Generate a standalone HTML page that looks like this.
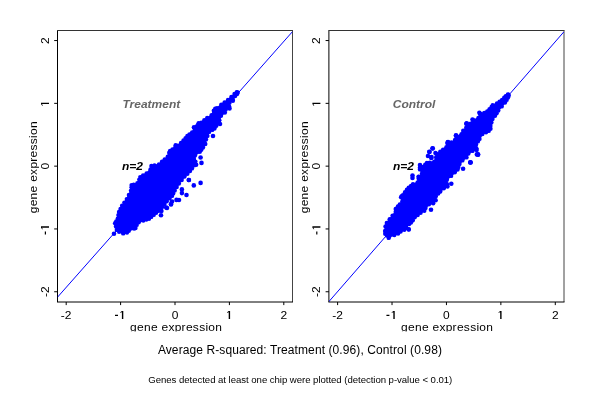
<!DOCTYPE html>
<html><head><meta charset="utf-8"><style>
html,body{margin:0;padding:0;background:#fff;}
svg{display:block;will-change:transform;}
text{font-family:"Liberation Sans",sans-serif;}
.tk{font-size:12px;fill:#000;}
.ttl{font-size:12px;font-weight:bold;font-style:italic;fill:#666;}
.n2{font-size:12px;font-weight:bold;font-style:italic;fill:#000;}
.main{font-size:12px;fill:#000;}
.sub{font-size:9.6px;fill:#000;}
</style></head><body>
<svg width="600" height="400" viewBox="0 0 600 400">
<rect width="600" height="400" fill="#fff"/>
<path d="M57.5,302.0 V30.5" stroke="#000" stroke-width="1" fill="none"/>
<path d="M57.0,30.5 H293.0" stroke="#333" stroke-width="1" fill="none"/>
<path d="M292.5,30.5 V302.0" stroke="#444" stroke-width="1" fill="none"/>
<path d="M57.0,302.0 H293.0" stroke="#000" stroke-width="1" fill="none"/>
<line x1="54.2" y1="40.55" x2="57.5" y2="40.55" stroke="#000" stroke-width="1" fill="none"/>
<line x1="54.2" y1="103.35" x2="57.5" y2="103.35" stroke="#000" stroke-width="1" fill="none"/>
<line x1="54.2" y1="166.15" x2="57.5" y2="166.15" stroke="#000" stroke-width="1" fill="none"/>
<line x1="54.2" y1="228.95" x2="57.5" y2="228.95" stroke="#000" stroke-width="1" fill="none"/>
<line x1="54.2" y1="291.75" x2="57.5" y2="291.75" stroke="#000" stroke-width="1" fill="none"/>
<line x1="66.20" y1="302.0" x2="66.20" y2="305.1" stroke="#000" stroke-width="1" fill="none"/>
<line x1="120.60" y1="302.0" x2="120.60" y2="305.1" stroke="#000" stroke-width="1" fill="none"/>
<line x1="175.00" y1="302.0" x2="175.00" y2="305.1" stroke="#000" stroke-width="1" fill="none"/>
<line x1="229.40" y1="302.0" x2="229.40" y2="305.1" stroke="#000" stroke-width="1" fill="none"/>
<line x1="283.80" y1="302.0" x2="283.80" y2="305.1" stroke="#000" stroke-width="1" fill="none"/>
<clipPath id="c0"><rect x="57.5" y="30.5" width="235.0" height="271.5"/></clipPath>
<line x1="57.5" y1="297.2" x2="292.5" y2="31.6" stroke="#00f" stroke-width="1" clip-path="url(#c0)"/>
<polygon points="237.0,91.6 234.0,93.4 227.5,99.3 220.8,104.0 216.6,107.4 214.8,108.0 213.1,110.4 211.0,114.6 206.8,117.4 200.8,122.1 197.8,124.0 194.0,127.8 191.5,131.9 186.9,135.4 182.9,139.9 177.8,145.0 169.5,150.4 168.5,152.5 167.1,156.2 158.6,163.7 150.9,165.3 149.8,169.0 146.1,172.7 139.7,176.6 136.9,182.7 131.0,184.5 130.2,190.4 126.1,198.7 121.4,205.4 118.2,211.7 116.9,218.4 114.3,223.2 115.3,226.7 116.1,230.3 118.7,232.4 123.1,234.2 127.4,233.4 129.3,231.4 134.5,229.3 136.1,228.6 137.4,225.3 139.2,223.0 143.6,221.3 149.4,219.4 154.2,215.5 159.1,211.3 163.1,207.3 167.3,201.7 172.7,196.3 175.4,191.0 179.5,184.0 185.1,177.0 190.6,171.5 194.9,165.9 196.9,165.0 196.2,161.5 195.7,155.8 200.4,152.4 203.6,148.0 206.1,144.2 206.7,139.7 209.7,132.5 215.1,129.1 218.9,123.4 220.1,120.5 221.6,116.3 225.6,113.0 226.3,110.1 230.2,108.9 230.2,103.1 233.6,101.1 233.5,99.3 237.6,94.4 238.0,93.2" fill="#00f"/>
<g fill="#00f"><circle cx="236.8" cy="92.3" r="2.2"/><circle cx="234.5" cy="94.0" r="2.2"/><circle cx="231.4" cy="96.9" r="2.2"/><circle cx="228.0" cy="99.9" r="2.2"/><circle cx="224.6" cy="102.4" r="2.2"/><circle cx="221.3" cy="104.7" r="2.2"/><circle cx="217.0" cy="108.1" r="2.2"/><circle cx="215.2" cy="108.7" r="2.2"/><circle cx="213.8" cy="110.8" r="2.2"/><circle cx="211.6" cy="115.1" r="2.2"/><circle cx="207.2" cy="118.0" r="2.2"/><circle cx="204.3" cy="120.3" r="2.2"/><circle cx="201.2" cy="122.7" r="2.2"/><circle cx="198.3" cy="124.6" r="2.2"/><circle cx="196.5" cy="126.5" r="2.2"/><circle cx="194.6" cy="128.3" r="2.2"/><circle cx="192.1" cy="132.4" r="2.2"/><circle cx="189.5" cy="134.4" r="2.2"/><circle cx="187.4" cy="136.0" r="2.2"/><circle cx="185.6" cy="138.1" r="2.2"/><circle cx="183.5" cy="140.4" r="2.2"/><circle cx="181.0" cy="143.0" r="2.2"/><circle cx="178.3" cy="145.6" r="2.2"/><circle cx="175.3" cy="147.6" r="2.2"/><circle cx="172.5" cy="149.4" r="2.2"/><circle cx="170.1" cy="150.9" r="2.2"/><circle cx="169.2" cy="152.8" r="2.2"/><circle cx="167.7" cy="156.7" r="2.2"/><circle cx="164.7" cy="159.4" r="2.2"/><circle cx="162.0" cy="161.7" r="2.2"/><circle cx="159.0" cy="164.4" r="2.2"/><circle cx="154.5" cy="165.4" r="2.2"/><circle cx="151.4" cy="165.9" r="2.2"/><circle cx="150.5" cy="169.4" r="2.2"/><circle cx="146.6" cy="173.4" r="2.2"/><circle cx="143.1" cy="175.5" r="2.2"/><circle cx="140.3" cy="177.1" r="2.2"/><circle cx="139.3" cy="179.6" r="2.2"/><circle cx="137.4" cy="183.3" r="2.2"/><circle cx="133.7" cy="184.7" r="2.2"/><circle cx="131.6" cy="185.1" r="2.2"/><circle cx="131.6" cy="187.2" r="2.2"/><circle cx="131.0" cy="190.6" r="2.2"/><circle cx="128.9" cy="194.9" r="2.2"/><circle cx="126.8" cy="199.1" r="2.2"/><circle cx="124.4" cy="202.6" r="2.2"/><circle cx="122.1" cy="205.8" r="2.2"/><circle cx="120.5" cy="208.9" r="2.2"/><circle cx="119.0" cy="212.0" r="2.2"/><circle cx="118.4" cy="215.1" r="2.2"/><circle cx="117.7" cy="218.7" r="2.2"/><circle cx="116.2" cy="221.5" r="2.2"/><circle cx="115.1" cy="223.3" r="2.2"/><circle cx="116.0" cy="226.5" r="2.2"/><circle cx="116.8" cy="229.9" r="2.2"/><circle cx="119.1" cy="231.7" r="2.2"/><circle cx="123.2" cy="233.4" r="2.2"/><circle cx="127.0" cy="232.6" r="2.2"/><circle cx="128.8" cy="230.7" r="2.2"/><circle cx="134.1" cy="228.6" r="2.2"/><circle cx="135.5" cy="228.1" r="2.2"/><circle cx="136.7" cy="224.9" r="2.2"/><circle cx="138.7" cy="222.3" r="2.2"/><circle cx="143.3" cy="220.5" r="2.2"/><circle cx="146.3" cy="219.5" r="2.2"/><circle cx="149.0" cy="218.7" r="2.2"/><circle cx="151.2" cy="216.9" r="2.2"/><circle cx="153.7" cy="214.9" r="2.2"/><circle cx="156.1" cy="212.8" r="2.2"/><circle cx="158.6" cy="210.8" r="2.2"/><circle cx="160.5" cy="208.7" r="2.2"/><circle cx="162.5" cy="206.7" r="2.2"/><circle cx="164.5" cy="204.1" r="2.2"/><circle cx="166.7" cy="201.2" r="2.2"/><circle cx="169.5" cy="198.4" r="2.2"/><circle cx="172.0" cy="195.9" r="2.2"/><circle cx="173.2" cy="193.4" r="2.2"/><circle cx="174.7" cy="190.6" r="2.2"/><circle cx="176.7" cy="187.1" r="2.2"/><circle cx="178.9" cy="183.6" r="2.2"/><circle cx="181.7" cy="180.0" r="2.2"/><circle cx="184.5" cy="176.5" r="2.2"/><circle cx="187.4" cy="173.7" r="2.2"/><circle cx="190.0" cy="171.0" r="2.2"/><circle cx="192.0" cy="168.4" r="2.2"/><circle cx="194.4" cy="165.3" r="2.2"/><circle cx="196.2" cy="164.7" r="2.2"/><circle cx="195.4" cy="161.6" r="2.2"/><circle cx="195.0" cy="155.4" r="2.2"/><circle cx="199.8" cy="151.8" r="2.2"/><circle cx="201.3" cy="149.8" r="2.2"/><circle cx="203.0" cy="147.5" r="2.2"/><circle cx="205.3" cy="144.0" r="2.2"/><circle cx="206.0" cy="139.4" r="2.2"/><circle cx="207.4" cy="135.9" r="2.2"/><circle cx="209.1" cy="131.9" r="2.2"/><circle cx="212.2" cy="129.9" r="2.2"/><circle cx="214.5" cy="128.5" r="2.2"/><circle cx="216.3" cy="125.8" r="2.2"/><circle cx="218.2" cy="123.0" r="2.2"/><circle cx="219.3" cy="120.2" r="2.2"/><circle cx="221.0" cy="115.8" r="2.2"/><circle cx="224.9" cy="112.6" r="2.2"/><circle cx="225.7" cy="109.6" r="2.2"/><circle cx="229.6" cy="108.5" r="2.2"/><circle cx="229.2" cy="106.7" r="2.2"/><circle cx="229.5" cy="102.7" r="2.2"/><circle cx="232.9" cy="100.7" r="2.2"/><circle cx="232.7" cy="99.0" r="2.2"/><circle cx="235.1" cy="96.0" r="2.2"/><circle cx="236.9" cy="94.0" r="2.2"/><circle cx="237.2" cy="93.4" r="2.2"/></g>
<g fill="#00f"><circle cx="213" cy="136" r="2.3"/><circle cx="175.7" cy="145.3" r="2.3"/><circle cx="200.6" cy="157.5" r="2.3"/><circle cx="201.5" cy="162.9" r="2.3"/><circle cx="188.8" cy="180" r="2.3"/><circle cx="193.8" cy="185.4" r="2.3"/><circle cx="200.6" cy="182.9" r="2.3"/><circle cx="181.9" cy="189.4" r="2.3"/><circle cx="181.9" cy="193.1" r="2.3"/><circle cx="186.5" cy="195" r="2.3"/><circle cx="161" cy="215.3" r="2.3"/><circle cx="114" cy="233.8" r="2.3"/><circle cx="220" cy="124" r="2.3"/><circle cx="198.7" cy="123.3" r="2.3"/><circle cx="194" cy="127.3" r="2.3"/><circle cx="237.5" cy="92.5" r="2.3"/><circle cx="179" cy="200" r="2.3"/><circle cx="171" cy="204.5" r="2.3"/><circle cx="167" cy="208" r="2.3"/><circle cx="172" cy="201.5" r="2.3"/><circle cx="188.9" cy="180" r="2.3"/><circle cx="176.5" cy="199.9" r="2.3"/><circle cx="171" cy="204" r="2.3"/><circle cx="166.2" cy="207.5" r="2.3"/><circle cx="161.4" cy="210.9" r="2.3"/></g>
<path d="M328.9,302.0 V30.5" stroke="#000" stroke-width="1" fill="none"/>
<path d="M328.4,30.5 H564.5" stroke="#333" stroke-width="1" fill="none"/>
<path d="M564.0,30.5 V302.0" stroke="#444" stroke-width="1" fill="none"/>
<path d="M328.4,302.0 H564.5" stroke="#000" stroke-width="1" fill="none"/>
<line x1="325.59999999999997" y1="40.55" x2="328.9" y2="40.55" stroke="#000" stroke-width="1" fill="none"/>
<line x1="325.59999999999997" y1="103.35" x2="328.9" y2="103.35" stroke="#000" stroke-width="1" fill="none"/>
<line x1="325.59999999999997" y1="166.15" x2="328.9" y2="166.15" stroke="#000" stroke-width="1" fill="none"/>
<line x1="325.59999999999997" y1="228.95" x2="328.9" y2="228.95" stroke="#000" stroke-width="1" fill="none"/>
<line x1="325.59999999999997" y1="291.75" x2="328.9" y2="291.75" stroke="#000" stroke-width="1" fill="none"/>
<line x1="337.61" y1="302.0" x2="337.61" y2="305.1" stroke="#000" stroke-width="1" fill="none"/>
<line x1="392.03" y1="302.0" x2="392.03" y2="305.1" stroke="#000" stroke-width="1" fill="none"/>
<line x1="446.45" y1="302.0" x2="446.45" y2="305.1" stroke="#000" stroke-width="1" fill="none"/>
<line x1="500.87" y1="302.0" x2="500.87" y2="305.1" stroke="#000" stroke-width="1" fill="none"/>
<line x1="555.29" y1="302.0" x2="555.29" y2="305.1" stroke="#000" stroke-width="1" fill="none"/>
<clipPath id="c271"><rect x="328.9" y="30.5" width="235.10000000000002" height="271.5"/></clipPath>
<line x1="328.9" y1="301.6" x2="564.0" y2="31.7" stroke="#00f" stroke-width="1" clip-path="url(#c271)"/>
<polygon points="508.4,94.3 505.4,95.4 501.5,99.3 496.6,102.8 492.1,104.7 491.0,106.5 486.8,110.8 481.1,113.5 479.7,113.6 477.9,117.5 472.8,119.5 470.2,123.1 466.8,123.5 465.6,127.2 462.6,130.2 460.9,133.6 456.4,135.9 454.5,139.4 451.1,141.7 446.9,142.9 445.7,146.8 439.8,151.0 436.6,153.7 433.8,161.0 426.6,162.2 424.8,164.1 420.8,166.1 419.2,167.5 419.2,169.6 421.3,173.1 418.5,176.2 418.1,176.0 417.0,181.9 412.6,183.4 408.2,187.3 406.3,189.1 402.3,194.5 401.1,195.8 400.3,197.1 401.6,201.3 397.3,205.9 394.9,208.7 394.9,211.4 392.0,215.1 389.0,218.8 386.1,222.6 384.8,226.3 384.3,231.0 384.5,234.1 386.3,236.2 388.7,238.7 389.7,237.2 394.6,235.9 398.5,234.3 401.0,232.2 404.6,230.5 409.2,229.8 409.6,229.2 407.0,227.6 411.6,223.1 413.4,220.7 415.3,217.8 421.0,213.5 424.9,211.3 426.2,208.4 429.3,204.9 433.6,203.9 436.5,200.6 436.5,196.5 440.8,192.1 444.2,188.9 448.2,186.9 447.6,180.1 451.6,176.5 455.4,172.9 458.3,169.9 460.2,164.4 462.9,161.0 467.1,158.0 469.0,154.1 473.0,151.5 474.8,149.5 477.0,148.7 476.9,144.6 480.2,139.3 482.9,134.7 489.2,131.5 491.3,129.0 491.2,126.1 493.2,119.4 495.6,116.3 498.9,110.9 502.3,106.9 505.6,102.9 508.8,97.8 509.5,95.4" fill="#00f"/>
<g fill="#00f"><circle cx="508.2" cy="95.0" r="2.2"/><circle cx="505.8" cy="96.1" r="2.2"/><circle cx="504.2" cy="97.8" r="2.2"/><circle cx="502.1" cy="99.9" r="2.2"/><circle cx="499.6" cy="101.7" r="2.2"/><circle cx="497.0" cy="103.5" r="2.2"/><circle cx="492.7" cy="105.3" r="2.2"/><circle cx="491.6" cy="107.0" r="2.2"/><circle cx="489.5" cy="109.2" r="2.2"/><circle cx="487.2" cy="111.4" r="2.2"/><circle cx="484.3" cy="112.9" r="2.2"/><circle cx="481.3" cy="114.3" r="2.2"/><circle cx="480.2" cy="114.2" r="2.2"/><circle cx="478.4" cy="118.0" r="2.2"/><circle cx="473.3" cy="120.2" r="2.2"/><circle cx="470.6" cy="123.8" r="2.2"/><circle cx="467.3" cy="124.1" r="2.2"/><circle cx="466.3" cy="127.6" r="2.2"/><circle cx="463.2" cy="130.7" r="2.2"/><circle cx="461.5" cy="134.2" r="2.2"/><circle cx="456.9" cy="136.5" r="2.2"/><circle cx="455.0" cy="139.9" r="2.2"/><circle cx="451.4" cy="142.4" r="2.2"/><circle cx="447.5" cy="143.5" r="2.2"/><circle cx="446.4" cy="147.2" r="2.2"/><circle cx="443.1" cy="149.7" r="2.2"/><circle cx="440.3" cy="151.7" r="2.2"/><circle cx="437.2" cy="154.2" r="2.2"/><circle cx="436.2" cy="157.2" r="2.2"/><circle cx="434.3" cy="161.6" r="2.2"/><circle cx="429.8" cy="162.6" r="2.2"/><circle cx="426.9" cy="162.9" r="2.2"/><circle cx="425.2" cy="164.7" r="2.2"/><circle cx="421.2" cy="166.7" r="2.2"/><circle cx="419.9" cy="167.8" r="2.2"/><circle cx="420.0" cy="169.4" r="2.2"/><circle cx="422.1" cy="173.2" r="2.2"/><circle cx="418.8" cy="176.9" r="2.2"/><circle cx="418.6" cy="176.6" r="2.2"/><circle cx="418.7" cy="178.4" r="2.2"/><circle cx="417.6" cy="182.4" r="2.2"/><circle cx="413.0" cy="184.1" r="2.2"/><circle cx="411.0" cy="185.9" r="2.2"/><circle cx="408.7" cy="187.8" r="2.2"/><circle cx="406.9" cy="189.7" r="2.2"/><circle cx="405.0" cy="192.2" r="2.2"/><circle cx="402.9" cy="195.1" r="2.2"/><circle cx="401.7" cy="196.2" r="2.2"/><circle cx="401.1" cy="197.2" r="2.2"/><circle cx="402.3" cy="201.5" r="2.2"/><circle cx="399.8" cy="204.5" r="2.2"/><circle cx="397.9" cy="206.4" r="2.2"/><circle cx="395.7" cy="209.0" r="2.2"/><circle cx="395.7" cy="211.7" r="2.2"/><circle cx="392.6" cy="215.6" r="2.2"/><circle cx="389.7" cy="219.3" r="2.2"/><circle cx="386.8" cy="223.0" r="2.2"/><circle cx="385.5" cy="226.5" r="2.2"/><circle cx="385.1" cy="231.0" r="2.2"/><circle cx="385.2" cy="233.8" r="2.2"/><circle cx="386.9" cy="235.6" r="2.2"/><circle cx="388.7" cy="237.9" r="2.2"/><circle cx="389.3" cy="236.5" r="2.2"/><circle cx="394.3" cy="235.1" r="2.2"/><circle cx="398.1" cy="233.6" r="2.2"/><circle cx="400.6" cy="231.5" r="2.2"/><circle cx="404.3" cy="229.7" r="2.2"/><circle cx="408.7" cy="229.2" r="2.2"/><circle cx="408.8" cy="229.5" r="2.2"/><circle cx="406.2" cy="227.7" r="2.2"/><circle cx="409.1" cy="224.1" r="2.2"/><circle cx="411.0" cy="222.5" r="2.2"/><circle cx="412.8" cy="220.3" r="2.2"/><circle cx="414.7" cy="217.3" r="2.2"/><circle cx="417.7" cy="215.0" r="2.2"/><circle cx="420.6" cy="212.8" r="2.2"/><circle cx="424.3" cy="210.8" r="2.2"/><circle cx="425.5" cy="208.0" r="2.2"/><circle cx="428.9" cy="204.2" r="2.2"/><circle cx="433.2" cy="203.2" r="2.2"/><circle cx="435.7" cy="200.3" r="2.2"/><circle cx="435.8" cy="196.2" r="2.2"/><circle cx="438.2" cy="193.5" r="2.2"/><circle cx="440.3" cy="191.5" r="2.2"/><circle cx="443.8" cy="188.3" r="2.2"/><circle cx="447.5" cy="186.5" r="2.2"/><circle cx="447.0" cy="184.2" r="2.2"/><circle cx="446.9" cy="179.8" r="2.2"/><circle cx="451.1" cy="175.9" r="2.2"/><circle cx="454.8" cy="172.3" r="2.2"/><circle cx="457.6" cy="169.5" r="2.2"/><circle cx="458.4" cy="167.1" r="2.2"/><circle cx="459.5" cy="164.0" r="2.2"/><circle cx="462.4" cy="160.4" r="2.2"/><circle cx="466.5" cy="157.4" r="2.2"/><circle cx="468.4" cy="153.6" r="2.2"/><circle cx="472.5" cy="150.9" r="2.2"/><circle cx="474.4" cy="148.9" r="2.2"/><circle cx="476.3" cy="148.3" r="2.2"/><circle cx="476.1" cy="144.4" r="2.2"/><circle cx="477.9" cy="141.4" r="2.2"/><circle cx="479.5" cy="138.9" r="2.2"/><circle cx="482.4" cy="134.1" r="2.2"/><circle cx="486.0" cy="132.2" r="2.2"/><circle cx="488.7" cy="130.9" r="2.2"/><circle cx="490.5" cy="128.7" r="2.2"/><circle cx="490.4" cy="126.0" r="2.2"/><circle cx="491.4" cy="122.5" r="2.2"/><circle cx="492.5" cy="119.0" r="2.2"/><circle cx="495.0" cy="115.8" r="2.2"/><circle cx="496.6" cy="113.2" r="2.2"/><circle cx="498.3" cy="110.5" r="2.2"/><circle cx="501.7" cy="106.4" r="2.2"/><circle cx="505.0" cy="102.5" r="2.2"/><circle cx="506.6" cy="99.9" r="2.2"/><circle cx="508.0" cy="97.5" r="2.2"/><circle cx="508.7" cy="95.6" r="2.2"/></g>
<g fill="#00f"><circle cx="466.7" cy="123.4" r="2.3"/><circle cx="456" cy="135.7" r="2.3"/><circle cx="448" cy="142" r="2.3"/><circle cx="432.7" cy="148.3" r="2.3"/><circle cx="429.3" cy="151.7" r="2.3"/><circle cx="428" cy="156" r="2.3"/><circle cx="431.3" cy="158" r="2.3"/><circle cx="432.5" cy="148.5" r="2.3"/><circle cx="429.5" cy="152" r="2.3"/><circle cx="431.5" cy="157" r="2.3"/><circle cx="435.5" cy="153" r="2.3"/><circle cx="420" cy="165" r="2.3"/><circle cx="412.5" cy="175.5" r="2.3"/><circle cx="412.5" cy="178" r="2.3"/><circle cx="478.1" cy="154.4" r="2.3"/><circle cx="470.6" cy="162.5" r="2.3"/><circle cx="476.9" cy="154.4" r="2.3"/><circle cx="470.3" cy="162.5" r="2.3"/><circle cx="463.1" cy="168.8" r="2.3"/><circle cx="451.3" cy="183.8" r="2.3"/><circle cx="431" cy="209.7" r="2.3"/><circle cx="508" cy="94.5" r="2.3"/><circle cx="479.4" cy="112.75" r="2.3"/><circle cx="472.5" cy="119.6" r="2.3"/><circle cx="466.3" cy="123.75" r="2.3"/><circle cx="456" cy="135.4" r="2.3"/><circle cx="447.75" cy="142.3" r="2.3"/><circle cx="476.6" cy="149.9" r="2.3"/><circle cx="478" cy="154.7" r="2.3"/><circle cx="470.4" cy="162.25" r="2.3"/></g>
<g transform="translate(49.00,40.55) rotate(-90)"><text x="0" y="0" text-anchor="middle" class="tk" transform="scale(1,0.89)">2</text></g>
<g transform="translate(49.00,103.35) rotate(-90)"><path d="M-0.7,0 V-8 H0.7 V0 Z M-0.7,-8 L-2.3,-6.8 V-6.1 L-0.7,-7.0 Z" fill="#000"/></g>
<g transform="translate(49.00,166.15) rotate(-90)"><text x="0" y="0" text-anchor="middle" class="tk" transform="scale(1,0.89)">0</text></g>
<g transform="translate(49.00,228.95) rotate(-90)"><path d="M1.3,0 V-8 H2.7 V0 Z M1.3,-8 L-0.3,-6.8 V-6.1 L1.3,-7.0 Z M-5.6,-4.2 H-2.6 V-3.0 H-5.6 Z" fill="#000"/></g>
<g transform="translate(49.00,291.75) rotate(-90)"><text x="0" y="0" text-anchor="middle" class="tk" transform="scale(1,0.89)">-2</text></g>
<g transform="translate(66.20,319)"><text x="0" y="0" text-anchor="middle" class="tk" transform="scale(1,0.89)">-2</text></g>
<g transform="translate(120.60,319)"><path d="M1.3,0 V-8 H2.7 V0 Z M1.3,-8 L-0.3,-6.8 V-6.1 L1.3,-7.0 Z M-5.6,-4.2 H-2.6 V-3.0 H-5.6 Z" fill="#000"/></g>
<g transform="translate(175.00,319)"><text x="0" y="0" text-anchor="middle" class="tk" transform="scale(1,0.89)">0</text></g>
<g transform="translate(229.40,319)"><path d="M-0.7,0 V-8 H0.7 V0 Z M-0.7,-8 L-2.3,-6.8 V-6.1 L-0.7,-7.0 Z" fill="#000"/></g>
<g transform="translate(283.80,319)"><text x="0" y="0" text-anchor="middle" class="tk" transform="scale(1,0.89)">2</text></g>
<text x="0" y="0" transform="translate(37.2,167.3) rotate(-90) scale(1,0.89)" text-anchor="middle" class="tk" textLength="92" lengthAdjust="spacing">gene expression</text>
<g clip-path="url(#xl0)"><g transform="translate(176,330.9) scale(1,0.89)"><text x="0" y="0" text-anchor="middle" class="tk" textLength="92" lengthAdjust="spacing">gene expression</text></g></g>
<clipPath id="xl0"><rect x="0" y="0" width="600" height="331.5"/></clipPath>
<g transform="translate(122.5,107.7) scale(1,0.95)"><text x="0" y="0" class="ttl">Treatment</text></g>
<g transform="translate(122,169.7) scale(1,0.89)"><text x="0" y="0" class="n2">n=2</text></g>
<g transform="translate(320.40,40.55) rotate(-90)"><text x="0" y="0" text-anchor="middle" class="tk" transform="scale(1,0.89)">2</text></g>
<g transform="translate(320.40,103.35) rotate(-90)"><path d="M-0.7,0 V-8 H0.7 V0 Z M-0.7,-8 L-2.3,-6.8 V-6.1 L-0.7,-7.0 Z" fill="#000"/></g>
<g transform="translate(320.40,166.15) rotate(-90)"><text x="0" y="0" text-anchor="middle" class="tk" transform="scale(1,0.89)">0</text></g>
<g transform="translate(320.40,228.95) rotate(-90)"><path d="M1.3,0 V-8 H2.7 V0 Z M1.3,-8 L-0.3,-6.8 V-6.1 L1.3,-7.0 Z M-5.6,-4.2 H-2.6 V-3.0 H-5.6 Z" fill="#000"/></g>
<g transform="translate(320.40,291.75) rotate(-90)"><text x="0" y="0" text-anchor="middle" class="tk" transform="scale(1,0.89)">-2</text></g>
<g transform="translate(337.61,319)"><text x="0" y="0" text-anchor="middle" class="tk" transform="scale(1,0.89)">-2</text></g>
<g transform="translate(392.03,319)"><path d="M1.3,0 V-8 H2.7 V0 Z M1.3,-8 L-0.3,-6.8 V-6.1 L1.3,-7.0 Z M-5.6,-4.2 H-2.6 V-3.0 H-5.6 Z" fill="#000"/></g>
<g transform="translate(446.45,319)"><text x="0" y="0" text-anchor="middle" class="tk" transform="scale(1,0.89)">0</text></g>
<g transform="translate(500.87,319)"><path d="M-0.7,0 V-8 H0.7 V0 Z M-0.7,-8 L-2.3,-6.8 V-6.1 L-0.7,-7.0 Z" fill="#000"/></g>
<g transform="translate(555.29,319)"><text x="0" y="0" text-anchor="middle" class="tk" transform="scale(1,0.89)">2</text></g>
<text x="0" y="0" transform="translate(308.2,167.3) rotate(-90) scale(1,0.89)" text-anchor="middle" class="tk" textLength="92" lengthAdjust="spacing">gene expression</text>
<g clip-path="url(#xl271)"><g transform="translate(447,330.9) scale(1,0.89)"><text x="0" y="0" text-anchor="middle" class="tk" textLength="92" lengthAdjust="spacing">gene expression</text></g></g>
<clipPath id="xl271"><rect x="0" y="0" width="600" height="331.5"/></clipPath>
<g transform="translate(392.8,107.7) scale(1,0.95)"><text x="0" y="0" class="ttl">Control</text></g>
<g transform="translate(393,169.7) scale(1,0.89)"><text x="0" y="0" class="n2">n=2</text></g>
<text x="299.9" y="353.7" text-anchor="middle" class="main" textLength="284" lengthAdjust="spacing">Average R-squared: Treatment (0.96), Control (0.98)</text>
<text x="300.3" y="383" text-anchor="middle" class="sub" textLength="304" lengthAdjust="spacing">Genes detected at least one chip were plotted (detection p-value &lt; 0.01)</text>
</svg>
</body></html>
